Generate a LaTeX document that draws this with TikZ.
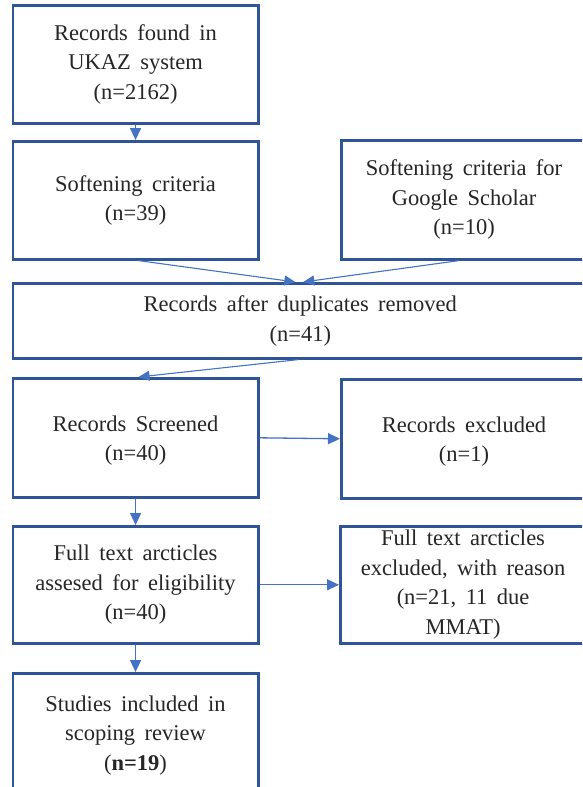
\documentclass[tikz,border=0pt]{standalone}
\usepackage{fontspec}
\setmainfont{Liberation Serif}
\newfontfamily\lserif{Liberation Serif}
\newcommand\myboxfont{\lserif\fontsize{22.5}{29.5}\selectfont\spaceskip=0.42em plus 0.1em\relax}
\usetikzlibrary{arrows.meta,positioning}
\definecolor{boxblue}{RGB}{47,85,151}
\definecolor{arrblue}{RGB}{68,114,196}
\begin{document}
\begin{tikzpicture}[x=1pt,y=1pt,
  flowbox/.style={draw=boxblue,line width=2.6pt,rectangle,anchor=north west,
    minimum width=245.5pt,align=center,inner sep=0pt,
    font=\myboxfont,text=black!85},
  conn/.style={draw=arrblue,line width=1.3pt,-{Triangle[length=12pt,width=11pt]}},
  conns/.style={draw=arrblue,line width=1.1pt,-{Triangle[length=11pt,width=10pt]}}]
\useasboundingbox (0,0) rectangle (582,-787);
\fill[white] (0,0) rectangle (582,-787);
\clip (0,0) rectangle (582,-787);
\node[flowbox,minimum height=118pt] (b1) at (11.5,-4) {Records found in\\UKAZ system\\(n=2162)};
\node[flowbox,minimum height=118pt] (b2) at (11.5,-140) {Softening criteria\\(n=39)};
\node[flowbox,minimum height=119pt] (g) at (340,-139) {Softening criteria for\\Google Scholar\\(n=10)};
\node[flowbox,minimum height=75pt,minimum width=575pt] (dup) at (11.5,-282) {Records after duplicates removed\\(n=41)};
\node[flowbox,minimum height=119pt] (scr) at (11.5,-377) {\\[-8pt]Records Screened\\(n=40)};
\node[flowbox,minimum height=119pt] (exc) at (340,-378) {\\[-8pt]Records excluded\\(n=1)};
\node[flowbox,minimum height=117pt] (full) at (11.5,-525) {Full text arcticles\\assesed for eligibility\\(n=40)};
\node[flowbox,minimum height=117pt] (fexc) at (339,-525) {Full text arcticles\\excluded, with reason\\(n=21, 11 due\\MMAT)};
\node[flowbox,minimum height=124pt] (stud) at (11.5,-672) {Studies included in\\scoping review\\(\textbf{n=19})};
\draw[conn] (b1.south) -- (b2.north);
\draw[conns] ([xshift=3pt]b2.south) -- ([xshift=-5pt]dup.north);
\draw[conns] ([xshift=-5pt]g.south) -- ([xshift=3pt]dup.north);
\draw[conns] ([xshift=-2pt]dup.south) -- ([xshift=3pt]scr.north);
\draw[conn] (scr.east) -- (exc.west);
\draw[conn] (scr.south) -- (full.north);
\draw[conn] (full.east) -- (fexc.west);
\draw[conn] (full.south) -- (stud.north);
\end{tikzpicture}
\end{document}
